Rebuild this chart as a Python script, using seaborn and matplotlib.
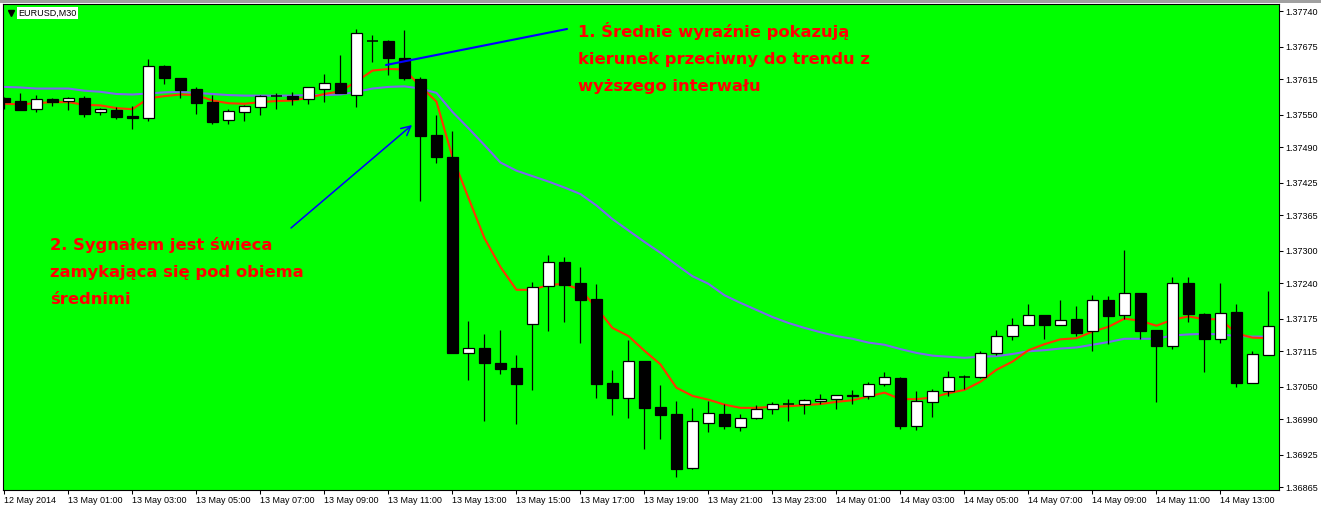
import numpy as np
import pandas as pd
import matplotlib
matplotlib.use("Agg")
import matplotlib.pyplot as plt
from matplotlib.patches import Rectangle
import seaborn as sns

# EURUSD M30 bars, starting 12 May 2014 23:00
opens = [1.37580, 1.37575, 1.37561, 1.37578, 1.37575, 1.37581, 1.37554, 1.37559, 1.37547, 1.37543,
         1.37639, 1.37617, 1.37597, 1.37573, 1.37540, 1.37554, 1.37564, 1.37584, 1.37584, 1.37579,
         1.37598, 1.37608, 1.37587, 1.37685, 1.37685, 1.37655, 1.37615, 1.37512, 1.37472, 1.37112,
         1.37121, 1.37093, 1.37084, 1.37166, 1.37235, 1.37279, 1.37240, 1.37211, 1.37056, 1.37030,
         1.37098, 1.37013, 1.37000, 1.36901, 1.36984, 1.37000, 1.36976, 1.36992, 1.37008, 1.37018,
         1.37018, 1.37023, 1.37027, 1.37034, 1.37033, 1.37054, 1.37065, 1.36978, 1.37021, 1.37042,
         1.37067, 1.37068, 1.37111, 1.37144, 1.37163, 1.37181, 1.37163, 1.37174, 1.37152, 1.37209,
         1.37181, 1.37223, 1.37155, 1.37125, 1.37240, 1.37183, 1.37138, 1.37187, 1.37057, 1.37109]
highs = [1.37582, 1.37589, 1.37586, 1.37581, 1.37582, 1.37584, 1.37562, 1.37564, 1.37566, 1.37652,
         1.37641, 1.37617, 1.37601, 1.37586, 1.37560, 1.37568, 1.37587, 1.37590, 1.37592, 1.37601,
         1.37625, 1.37660, 1.37707, 1.37696, 1.37687, 1.37706, 1.37619, 1.37549, 1.37520, 1.37171,
         1.37147, 1.37154, 1.37108, 1.37242, 1.37292, 1.37288, 1.37270, 1.37238, 1.37081, 1.37135,
         1.37098, 1.37053, 1.37024, 1.37011, 1.37024, 1.37018, 1.36999, 1.37016, 1.37021, 1.37027,
         1.37027, 1.37036, 1.37034, 1.37043, 1.37058, 1.37076, 1.37067, 1.37042, 1.37045, 1.37078,
         1.37071, 1.37115, 1.37154, 1.37176, 1.37202, 1.37181, 1.37209, 1.37198, 1.37218, 1.37216,
         1.37301, 1.37223, 1.37155, 1.37251, 1.37251, 1.37185, 1.37240, 1.37201, 1.37115, 1.37225]
lows = [1.37560, 1.37559, 1.37554, 1.37565, 1.37559, 1.37546, 1.37550, 1.37542, 1.37524, 1.37539,
        1.37607, 1.37581, 1.37552, 1.37532, 1.37532, 1.37539, 1.37550, 1.37560, 1.37567, 1.37570,
        1.37574, 1.37589, 1.37564, 1.37646, 1.37622, 1.37614, 1.37392, 1.37462, 1.37112, 1.37063,
        1.36986, 1.37074, 1.36982, 1.37043, 1.37153, 1.37169, 1.37131, 1.37030, 1.36997, 1.36993,
        1.36936, 1.36954, 1.36883, 1.36899, 1.36967, 1.36973, 1.36969, 1.36990, 1.37000, 1.36987,
        1.37000, 1.37019, 1.37008, 1.37019, 1.37028, 1.37052, 1.36973, 1.36971, 1.36995, 1.37032,
        1.37045, 1.37065, 1.37109, 1.37135, 1.37163, 1.37138, 1.37163, 1.37144, 1.37116, 1.37129,
        1.37174, 1.37138, 1.37021, 1.37120, 1.37168, 1.37076, 1.37131, 1.37050, 1.37056, 1.37109]
closes = [1.37574, 1.37559, 1.37578, 1.37574, 1.37580, 1.37552, 1.37560, 1.37546, 1.37543, 1.37639,
          1.37618, 1.37596, 1.37572, 1.37537, 1.37557, 1.37565, 1.37584, 1.37584, 1.37579, 1.37600,
          1.37608, 1.37589, 1.37700, 1.37685, 1.37655, 1.37618, 1.37511, 1.37472, 1.37112, 1.37121,
          1.37093, 1.37083, 1.37055, 1.37234, 1.37279, 1.37237, 1.37210, 1.37055, 1.37030, 1.37098,
          1.37011, 1.36998, 1.36899, 1.36986, 1.37001, 1.36978, 1.36992, 1.37008, 1.37018, 1.37018,
          1.37025, 1.37027, 1.37034, 1.37032, 1.37054, 1.37067, 1.36978, 1.37023, 1.37042, 1.37067,
          1.37067, 1.37111, 1.37143, 1.37163, 1.37181, 1.37164, 1.37172, 1.37149, 1.37209, 1.37180,
          1.37223, 1.37153, 1.37125, 1.37240, 1.37184, 1.37138, 1.37185, 1.37057, 1.37110, 1.37161]

# moving averages (red = fast, purple = slow)
ma_fast = [1.37570, 1.37569, 1.37571, 1.37573, 1.37573, 1.37568, 1.37567, 1.37562, 1.37560, 1.37580,
           1.37584, 1.37587, 1.37586, 1.37576, 1.37571, 1.37570, 1.37573, 1.37575, 1.37576, 1.37581,
           1.37588, 1.37593, 1.37611, 1.37631, 1.37634, 1.37633, 1.37602, 1.37574, 1.37472, 1.37397,
           1.37323, 1.37270, 1.37228, 1.37228, 1.37237, 1.37239, 1.37228, 1.37195, 1.37158, 1.37143,
           1.37116, 1.37091, 1.37048, 1.37033, 1.37026, 1.37017, 1.37011, 1.37011, 1.37013, 1.37014,
           1.37016, 1.37018, 1.37022, 1.37025, 1.37032, 1.37039, 1.37027, 1.37027, 1.37030, 1.37038,
           1.37044, 1.37059, 1.37081, 1.37096, 1.37117, 1.37128, 1.37137, 1.37139, 1.37151, 1.37160,
           1.37175, 1.37171, 1.37162, 1.37173, 1.37179, 1.37174, 1.37174, 1.37148, 1.37140, 1.37139]
ma_slow = [1.37601, 1.37600, 1.37598, 1.37598, 1.37598, 1.37594, 1.37592, 1.37588, 1.37587, 1.37589,
           1.37591, 1.37592, 1.37590, 1.37588, 1.37586, 1.37585, 1.37585, 1.37585, 1.37585, 1.37586,
           1.37586, 1.37587, 1.37592, 1.37598, 1.37601, 1.37602, 1.37598, 1.37590, 1.37555, 1.37525,
           1.37494, 1.37462, 1.37447, 1.37437, 1.37427, 1.37416, 1.37404, 1.37383, 1.37358, 1.37337,
           1.37316, 1.37296, 1.37274, 1.37253, 1.37239, 1.37218, 1.37204, 1.37191, 1.37178, 1.37167,
           1.37158, 1.37150, 1.37143, 1.37138, 1.37131, 1.37127, 1.37119, 1.37112, 1.37107, 1.37105,
           1.37103, 1.37105, 1.37106, 1.37110, 1.37115, 1.37117, 1.37120, 1.37122, 1.37127, 1.37132,
           1.37138, 1.37138, 1.37138, 1.37144, 1.37146, 1.37147, 1.37146, 1.37143, 1.37142, 1.37142]

time_labels = ["12 May 2014", "13 May 01:00", "13 May 03:00", "13 May 05:00", "13 May 07:00",
               "13 May 09:00", "13 May 11:00", "13 May 13:00", "13 May 15:00", "13 May 17:00",
               "13 May 19:00", "13 May 21:00", "13 May 23:00", "14 May 01:00", "14 May 03:00",
               "14 May 05:00", "14 May 07:00", "14 May 09:00", "14 May 11:00", "14 May 13:00"]
price_ticks = [1.37740, 1.37675, 1.37615, 1.37550, 1.37490, 1.37425, 1.37365, 1.37300,
               1.37240, 1.37175, 1.37115, 1.37050, 1.36990, 1.36925, 1.36865]

note1 = ["1. Średnie wyraźnie pokazują", "kierunek przeciwny do trendu z", "wyższego interwału"]
note2 = ["2. Sygnałem jest świeca", "zamykająca się pod obiema", "średnimi"]

df = pd.DataFrame({"bar": np.arange(len(opens)), "open": opens, "high": highs,
                   "low": lows, "close": closes, "ma_fast": ma_fast, "ma_slow": ma_slow})

sns.set_style("ticks")
plt.rcParams['font.family'] = ['Liberation Sans', 'DejaVu Sans']

W, H = 1321, 508
fig = plt.figure(figsize=(W / 100, H / 100), dpi=100)
ax = fig.add_axes([2.7 / W, 1 - 490 / H, (1279 - 2.7) / W, (490 - 4) / H])
ax.set_facecolor('#00ff00')


def px(x, y):
    # screen pixel (from top-left) -> figure fraction
    return (x / W, 1 - y / H)


# moving averages behind the candles
sns.lineplot(data=df, x="bar", y="ma_slow", color="#7b68ee", lw=1.5, ax=ax, zorder=2)
sns.lineplot(data=df, x="bar", y="ma_fast", color="#ff3300", lw=1.5, ax=ax, zorder=2)

# candles
ax.vlines(df.bar, df.low, df.high, color='black', lw=0.9, zorder=3)
body = df[df.close != df.open]
ax.bar(body.bar, (body.close - body.open).abs(), bottom=body[['open', 'close']].min(axis=1),
       width=0.64, color=np.where(body.close > body.open, 'white', 'black'),
       edgecolor='black', linewidth=0.9, zorder=4)
doji = df[df.close == df.open]
ax.hlines(doji.close, doji.bar - 0.36, doji.bar + 0.36, color='black', lw=1.1, zorder=4)

ax.set_xlim(-0.11, 79.66)
ax.set_ylim(1.36860, 1.377534)
ax.set_xlabel('')
ax.set_ylabel('')

ax.set_xticks(df.bar[::4])
ax.set_xticklabels(time_labels, ha='left', fontsize=6.5)
ax.yaxis.tick_right()
ax.set_yticks(price_ticks)
ax.set_yticklabels([f"{p:.5f}" for p in price_ticks], fontsize=6.5)
ax.tick_params(axis='both', length=3, width=0.75, color='black', pad=1.5, labelcolor='black')
for s in ax.spines.values():
    s.set_visible(True)
    s.set_color('black')
    s.set_linewidth(0.8)

# symbol label top-left
fig.text(*px(18.5, 13), "EURUSD,M30", fontsize=6.5, color='black', va='center', ha='left',
         bbox=dict(facecolor='white', edgecolor='none', pad=1.2))
fig.add_artist(plt.Line2D([10.5 / W], [1 - 12.5 / H], marker='v', color='black', markersize=4,
                          transform=fig.transFigure))

# thin gray strip on top of the window
fig.add_artist(Rectangle((0, 1 - 2.5 / H), 1, 2.5 / H, transform=fig.transFigure,
                         color='#a0a0a0', lw=0))

# annotations
for i, line in enumerate(note1):
    fig.text(*px(578, 36.5 + 27.2 * i), line, color='#ff0000', fontsize=11.8,
             fontweight='bold', family=['DejaVu Sans'], va='baseline', ha='left')
for i, line in enumerate(note2):
    fig.text(*px(50.5, 250 + 27 * i), line, color='#ff0000', fontsize=11.8,
             fontweight='bold', family=['DejaVu Sans'], va='baseline', ha='left')

fig.add_artist(plt.Line2D([386 / W, 567 / W], [1 - 65 / H, 1 - 29 / H], color='#0000ff',
                          lw=1.5, transform=fig.transFigure))
ax.annotate("", xy=px(412, 125), xytext=px(291, 228), xycoords='figure fraction',
            textcoords='figure fraction',
            arrowprops=dict(arrowstyle='->,head_length=0.55,head_width=0.28', color='#0000ff',
                            lw=1.1, mutation_scale=12, shrinkA=0, shrinkB=0))

fig.savefig('out.png', dpi=100, facecolor='white')
